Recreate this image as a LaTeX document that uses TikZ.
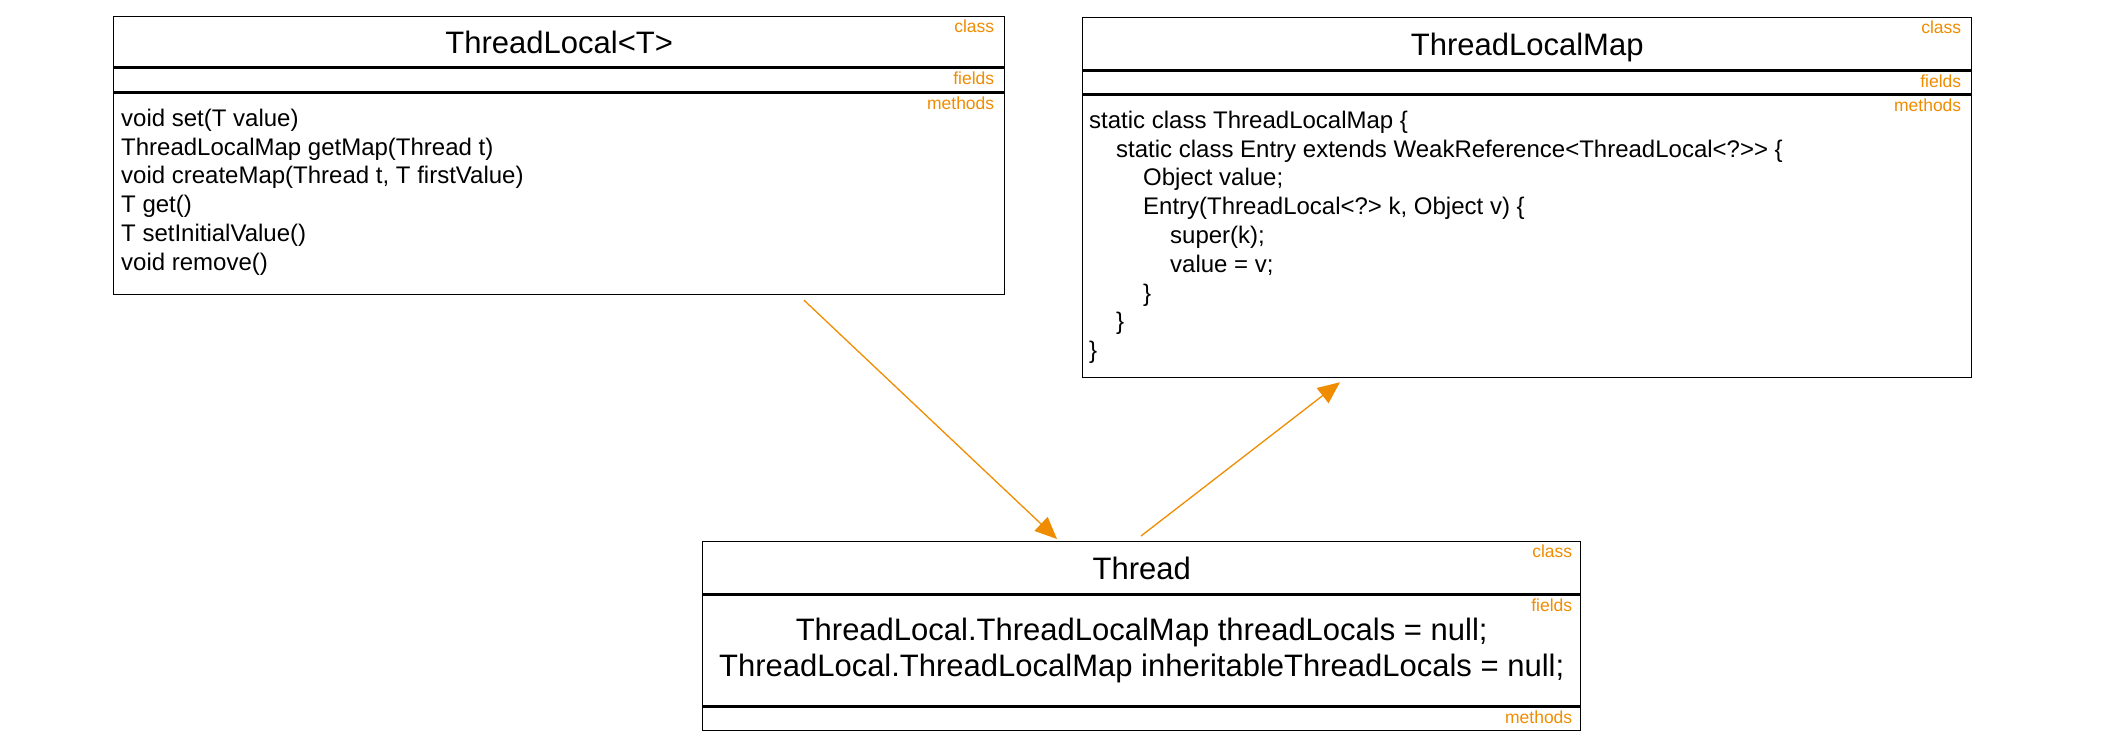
\documentclass[tikz,border=0pt]{standalone}
\usepackage{fontspec}
\setmainfont{Liberation Sans}
\usetikzlibrary{arrows.meta}
\definecolor{tagorange}{RGB}{240,140,0}
\tikzstyle{part text} = [inner sep=0, anchor=north west, align=left, font=\fontsize{24}{28.8}\selectfont]
\tikzstyle{title text} = [text height=31pt, text depth=7pt, font=\fontsize{31}{37}\selectfont]

\begin{document}
\begin{tikzpicture}[x=1pt, y=1pt,
                    class part/.style={draw, line width=1.4pt, rectangle, inner sep=0, anchor=north west, minimum width=#1},
                    tag/.style={inner sep=0, anchor=north east, text=tagorange, font=\fontsize{17.5}{20}\selectfont},
                    flow/.style={draw=tagorange, line width=1.3pt, -{Triangle[length=22pt, width=19pt]}}
                    ]
\useasboundingbox (0,0) rectangle (2112,748);

    % ThreadLocal<T>
    \node(tl)[class part=891pt, minimum height=50pt, title text] at (113,732) {ThreadLocal<T>};
    \node(tlf)[class part=891pt, minimum height=24pt] at (tl.south west) {};
    \node(tlm)[class part=891pt, minimum height=201pt] at (tlf.south west) {};
    \node[tag] at ([xshift=-11pt, yshift=-4pt]tl.north east) {class};
    \node[tag] at ([xshift=-11pt, yshift=-4pt]tlf.north east) {fields};
    \node[tag] at ([xshift=-11pt, yshift=-4pt]tlm.north east) {methods};
    \node(tlm text)[part text] at ([xshift=8pt, yshift=-16pt]tlm.north west)
        {void set(T value)\\
         ThreadLocalMap getMap(Thread t)\\
         void createMap(Thread t, T firstValue)\\
         T get()\\
         T setInitialValue()\\
         void remove()};

    % ThreadLocalMap
    \node(map)[class part=889pt, minimum height=52pt, title text] at (1082,731) {ThreadLocalMap};
    \node(mapf)[class part=889pt, minimum height=23pt] at (map.south west) {};
    \node(mapm)[class part=889pt, minimum height=282pt] at (mapf.south west) {};
    \node[tag] at ([xshift=-11pt, yshift=-4pt]map.north east) {class};
    \node[tag] at ([xshift=-11pt, yshift=-4pt]mapf.north east) {fields};
    \node[tag] at ([xshift=-11pt, yshift=-4pt]mapm.north east) {methods};
    \node(mapm text)[part text] at ([xshift=7pt, yshift=-16pt]mapm.north west)
        {static class ThreadLocalMap \{\\
         \hspace*{27pt}static class Entry extends WeakReference<ThreadLocal<?>{}> \{\\
         \hspace*{54pt}Object value;\\
         \hspace*{54pt}Entry(ThreadLocal<?> k, Object v) \{\\
         \hspace*{81pt}super(k);\\
         \hspace*{81pt}value = v;\\
         \hspace*{54pt}\}\\
         \hspace*{27pt}\}\\
         \}};

    % Thread
    \node(th)[class part=878pt, minimum height=52pt, title text] at (702,207) {Thread};
    \node(thf)[class part=878pt, minimum height=111pt, align=center, font=\fontsize{31}{36}\selectfont] at (th.south west)
        {ThreadLocal.ThreadLocalMap threadLocals = null;\\
         ThreadLocal.ThreadLocalMap inheritableThreadLocals = null;};
    \node(thm)[class part=878pt, minimum height=23pt] at (thf.south west) {};
    \node[tag] at ([xshift=-9pt, yshift=-4pt]th.north east) {class};
    \node[tag] at ([xshift=-9pt, yshift=-4pt]thf.north east) {fields};
    \node[tag] at ([xshift=-9pt, yshift=-4pt]thm.north east) {methods};

    \draw[flow] ([xshift=691pt, yshift=-5pt]tlm.south west) -- ([xshift=355pt, yshift=2pt]th.north west);
    \draw[flow] ([xshift=439pt, yshift=5pt]th.north west) -- ([xshift=258pt, yshift=-4pt]mapm.south west);

\end{tikzpicture}
\end{document}
